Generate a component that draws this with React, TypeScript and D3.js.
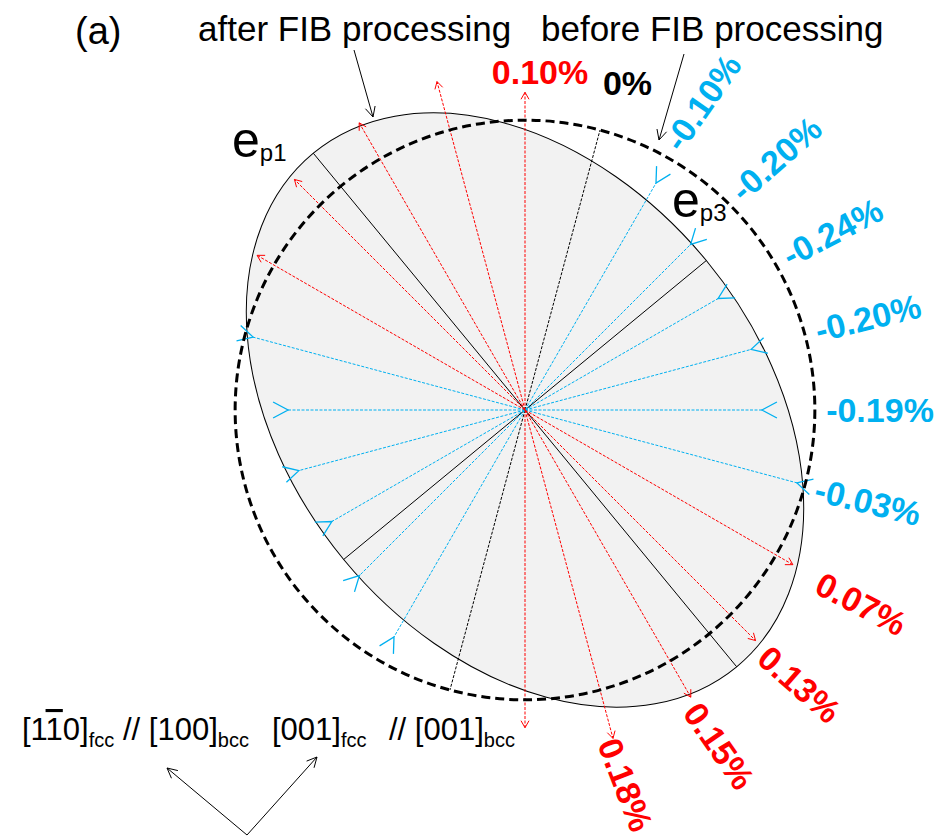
import React from "react";
import * as d3 from "d3";

// ---- data ----
const rayAngles = [0, 15, 30, 45, 60, 75, 90, 105, 120, 135, 150, 165]; // deg, clockwise from "up"
const rayStrains = [0.1, 0, -0.1, -0.2, -0.24, -0.2, -0.19, -0.03, 0.07, 0.13, 0.15, 0.18]; // %
const rayLabels = ["0.10%", "0%", "-0.10%", "-0.20%", "-0.24%", "-0.20%", "-0.19%", "-0.03%", "0.07%", "0.13%", "0.15%", "0.18%"];
const principalStrains = [0.154, -0.197]; // ep1, ep3 (%)
const principalAngle = -39.5; // direction of ep1, deg clockwise from up
const headerTexts = ["(a)", "after FIB processing", "before FIB processing"];

const W = 939;
const H = 837;
const cx = 525;
const cy = 410;
const RED = "#ff0000";
const BLUE = "#00b0f0";
const FONT = "'Liberation Sans', Arial, Helvetica, sans-serif";

const rScale = d3.scaleLinear().domain([-0.24, 0.18]).range([223, 340]);

const rad = (deg: number) => (deg * Math.PI) / 180;
const dir = (deg: number) => [Math.sin(rad(deg)), -Math.cos(rad(deg))];
const pt = (deg: number, r: number) => {
  const [dx, dy] = dir(deg);
  return [cx + dx * r, cy + dy * r];
};

function arrowHead(tip: number[], from: number[], len: number, half: number) {
  const dx = tip[0] - from[0];
  const dy = tip[1] - from[1];
  const L = Math.hypot(dx, dy);
  const ux = dx / L, uy = dy / L;
  const px = -uy, py = ux;
  const a = [tip[0] - ux * len + px * half, tip[1] - uy * len + py * half];
  const b = [tip[0] - ux * len - px * half, tip[1] - uy * len - py * half];
  return `M${a[0]},${a[1]}L${tip[0]},${tip[1]}L${b[0]},${b[1]}`;
}

export default function App() {
  const r0 = rScale(0);
  const a = rScale(principalStrains[0]);
  const b = rScale(principalStrains[1]);

  const rays: any[] = [];
  rayAngles.forEach((ang, i) => {
    const s = rayStrains[i];
    const color = s > 0 ? RED : s < 0 ? BLUE : "#000";
    const r = rScale(s);
    [ang, ang + 180].forEach((th, k) => {
      const end = pt(th, r);
      const [ux, uy] = dir(th);
      const px = -uy, py = ux;
      let head: string | null = null;
      if (s > 0) head = arrowHead(end, [cx, cy], 7, 4);
      else if (s < 0) {
        const o1 = [end[0] + ux * 15 + px * 8, end[1] + uy * 15 + py * 8];
        const o2 = [end[0] + ux * 15 - px * 8, end[1] + uy * 15 - py * 8];
        head = `M${o1[0]},${o1[1]}L${end[0]},${end[1]}L${o2[0]},${o2[1]}`;
      }
      rays.push(
        <g key={`r${i}-${k}`}>
          <line x1={cx} y1={cy} x2={end[0]} y2={end[1]} stroke={color} strokeWidth={1} strokeDasharray="3 1.5" />
          {head && <path d={head} fill="none" stroke={color} strokeWidth={s < 0 ? 1.3 : 1} />}
        </g>
      );
    });
  });

  const labels = rayAngles.map((ang, i) => {
    const s = rayStrains[i];
    const color = s > 0 ? RED : s < 0 ? BLUE : "#000";
    if (ang < 30) {
      const p = pt(ang, 338);
      return (
        <text key={`l${i}`} x={p[0] + 15} y={p[1]} dy="0.35em" textAnchor="middle" fontFamily={FONT} fontWeight="bold" fontSize={34} fill={color}>
          {rayLabels[i]}
        </text>
      );
    }
    const p = pt(ang, s < 0 ? 355 : 388);
    return (
      <text key={`l${i}`} x={0} y={0} dy="0.35em" textAnchor="middle" fontFamily={FONT} fontWeight="bold" fontSize={34} fill={color}
        transform={`translate(${p[0]},${p[1]}) rotate(${(ang - 90) * 0.92})`}>
        {rayLabels[i]}
      </text>
    );
  });

  const axes = [
    [principalAngle, a],
    [principalAngle + 180, a],
    [principalAngle + 90, b],
    [principalAngle + 270, b],
  ].map(([th, r], i) => {
    const e = pt(th, r);
    return <line key={`ax${i}`} x1={cx} y1={cy} x2={e[0]} y2={e[1]} stroke="#000" strokeWidth={1} />;
  });

  const ann = (x1: number, y1: number, x2: number, y2: number, key: string) => (
    <g key={key}>
      <line x1={x1} y1={y1} x2={x2} y2={y2} stroke="#000" strokeWidth={1} />
      <path d={arrowHead([x2, y2], [x1, y1], 10, 5)} fill="none" stroke="#000" strokeWidth={1} />
    </g>
  );

  return (
    <svg width={W} height={H} style={{ position: "absolute", left: 0, top: 0, background: "#fff" }}>
      <ellipse cx={cx} cy={cy} rx={a} ry={b} transform={`rotate(${principalAngle - 90},${cx},${cy})`} fill="#f2f2f2" stroke="#000" strokeWidth={1} />
      {axes}
      {rays}
      <circle cx={cx} cy={cy} r={r0} fill="none" stroke="#000" strokeWidth={3} strokeDasharray="9 5" />
      {labels}

      <text x={232} y={157} fontFamily={FONT} fontSize={50} fill="#000">
        e<tspan fontSize={24} dy={4}>p1</tspan>
      </text>
      <text x={672} y={217} fontFamily={FONT} fontSize={50} fill="#000">
        e<tspan fontSize={24} dy={4}>p3</tspan>
      </text>

      <text x={75} y={44} fontFamily={FONT} fontSize={38} fill="#000">{headerTexts[0]}</text>
      <text x={198} y={41} fontFamily={FONT} fontSize={35} fill="#000">{headerTexts[1]}</text>
      <text x={541} y={41} fontFamily={FONT} fontSize={35} fill="#000">{headerTexts[2]}</text>
      {ann(354, 50, 373, 117, "a1")}
      {ann(684, 54, 659, 140, "a2")}

      <text x={22} y={740} fontFamily={FONT} fontSize={31} fill="#000" style={{ whiteSpace: "pre" }}>
        [1<tspan style={{ textDecoration: "overline" }}>1</tspan>0]
        <tspan fontSize={20} dy={7}>fcc</tspan>
        <tspan x={123} dy={-7}>{"// [100]"}</tspan>
        <tspan fontSize={20} dy={7}>bcc</tspan>
      </text>
      <text x={272} y={740} fontFamily={FONT} fontSize={31} fill="#000" style={{ whiteSpace: "pre" }}>
        [001]<tspan fontSize={20} dy={7}>fcc</tspan>
        <tspan x={389} dy={-7}>{"// [001]"}</tspan>
        <tspan fontSize={20} dy={7}>bcc</tspan>
      </text>
      {ann(247, 835, 167, 768, "b1")}
      {ann(247, 835, 317, 757, "b2")}
    </svg>
  );
}
